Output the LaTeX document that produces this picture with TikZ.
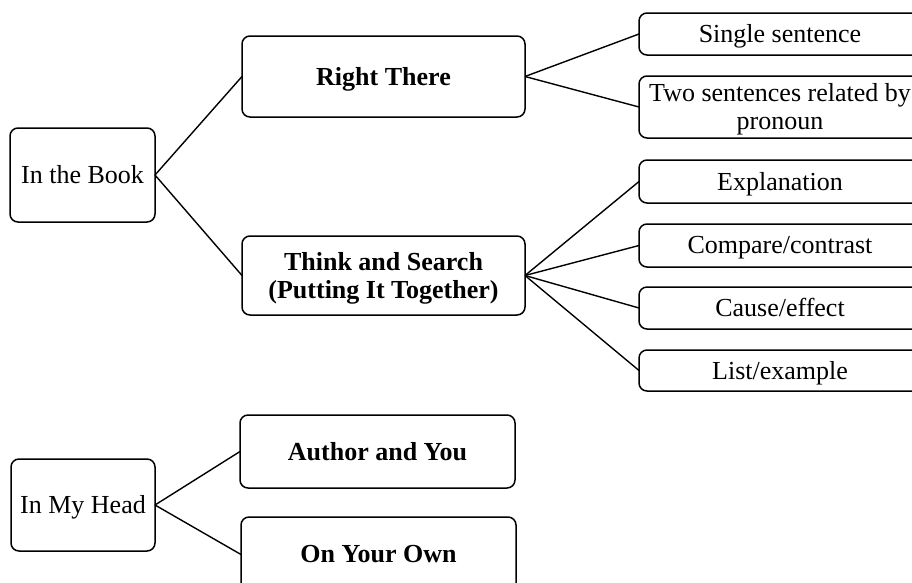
\documentclass[tikz,border=0pt]{standalone}
\usepackage{fontspec}
\setmainfont{Liberation Serif}
\begin{document}
\begin{tikzpicture}[x=1pt,y=-1pt,
  box/.style={draw=black, line width=1.5pt, rounded corners=8pt, inner sep=0pt, outer sep=0pt, align=center, text depth=1pt, font=\fontsize{26}{28}\selectfont},
  bbox/.style={box, font=\fontsize{26}{28}\selectfont\bfseries},
  link/.style={line width=1.4pt}]
\useasboundingbox (0,0) rectangle (912,582);
\clip (0,0) rectangle (912,582);
% left
\node[box, minimum width=145pt, minimum height=94pt] (book) at (82.5,175) {In the Book};
\node[box, minimum width=144pt, minimum height=92pt] (head) at (83,505) {In My Head};
% middle
\node[bbox, minimum width=283pt, minimum height=81pt] (rt) at (383.5,76.5) {Right There};
\node[bbox, minimum width=283pt, minimum height=79pt] (ts) at (383.5,275.5) {Think and Search\\(Putting It Together)};
\node[bbox, minimum width=275pt, minimum height=73pt] (ay) at (377.5,451.5) {Author and You};
\node[bbox, minimum width=275pt, minimum height=75pt] (oy) at (378.5,554.5) {On Your Own};
% right
\node[box, minimum width=282pt, minimum height=42pt] (ss) at (780,34) {Single sentence};
\node[box, minimum width=282pt, minimum height=62pt] (two) at (780,107) {Two sentences related by\\pronoun};
\node[box, minimum width=282pt, minimum height=43pt] (ex) at (780,181.5) {Explanation};
\node[box, minimum width=282pt, minimum height=43pt] (cc) at (780,245.5) {Compare/contrast};
\node[box, minimum width=282pt, minimum height=42pt] (ce) at (780,308) {Cause/effect};
\node[box, minimum width=282pt, minimum height=41pt] (le) at (780,370.5) {List/example};
% connectors
\draw[link] (book.east) -- (rt.west);
\draw[link] (book.east) -- (ts.west);
\draw[link] (head.east) -- (ay.west);
\draw[link] (head.east) -- (oy.west);
\draw[link] (rt.east) -- (ss.west);
\draw[link] (rt.east) -- (two.west);
\draw[link] (ts.east) -- (ex.west);
\draw[link] (ts.east) -- (cc.west);
\draw[link] (ts.east) -- (ce.west);
\draw[link] (ts.east) -- (le.west);
\end{tikzpicture}
\end{document}
